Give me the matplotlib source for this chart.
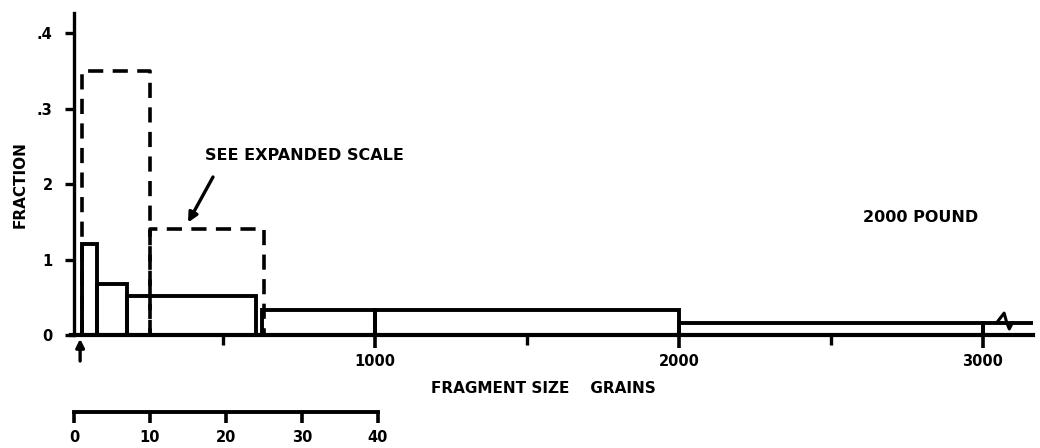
import matplotlib
matplotlib.use("Agg")
import matplotlib.pyplot as plt
import matplotlib.transforms as mtransforms
from matplotlib.ticker import FixedLocator

# Fragment mass bins (grains) and the fraction of fragments in each bin
bin_left = [35, 85, 185, 630, 1000, 2000, 3000]
bin_right = [85, 185, 610, 1000, 2000, 3000, 3165]
fraction = [0.120, 0.068, 0.051, 0.033, 0.033, 0.016, 0.016]

# Small fragments replotted on the expanded 0-40 grain scale
exp_left = [1, 10]
exp_right = [10, 25]
exp_fraction = [0.35, 0.14]

# Break mark on the open-ended last bin
break_x = [3045, 3070, 3079, 3087, 3097]
break_y = [0.016, 0.029, 0.016, 0.008, 0.016]

y_ticks = [0, 0.1, 0.2, 0.3, 0.4]
y_tick_labels = ["0", "1", "2", ".3", ".4"]
x_ticks = [1000, 2000, 3000]
x_minor_ticks = [500, 1500, 2500]
exp_ticks = [0, 10, 20, 30, 40]

plt.rcParams["font.family"] = ["DejaVu Sans"]
plt.rcParams["font.weight"] = "bold"

W, H = 1040, 448
fig = plt.figure(figsize=(W / 100, H / 100), dpi=100)
fig.patch.set_facecolor("white")


def fx(px):
    return px / W


def fy(py):
    return 1 - py / H


LW = 2.8
INK = "black"

# ---- main axes -------------------------------------------------------
ax = fig.add_axes([fx(71), fy(335), fx(1033) - fx(71), fy(13) - fy(335)])
ax.set_xlim(0, 3165)
ax.set_ylim(0, 0.4265)
ax.set_facecolor("none")
for side in ("top", "right"):
    ax.spines[side].set_visible(False)
ax.spines["left"].set_position(("data", 10))
ax.spines["left"].set_linewidth(2.4)
ax.spines["bottom"].set_linewidth(3.0)
ax.spines["left"].set_capstyle("projecting")

ax.set_yticks(y_ticks)
ax.set_yticklabels(y_tick_labels)
ax.tick_params(axis="y", direction="out", length=6.5, width=2.4, pad=9,
               labelsize=10.5, colors=INK)

ax.xaxis.set_major_locator(FixedLocator(x_ticks))
ax.xaxis.set_minor_locator(FixedLocator(x_minor_ticks))
ax.set_xticklabels([str(t) for t in x_ticks])
ax.tick_params(axis="x", which="major", direction="out", length=9, width=2.6,
               pad=5, labelsize=10.5, colors=INK)
ax.tick_params(axis="x", which="minor", direction="out", length=7, width=2.4)
for lab in ax.get_xticklabels() + ax.get_yticklabels():
    lab.set_fontweight("bold")

# Solid histogram bars (outlines only); the last bin runs off the scale
n = len(fraction)
for i, (l, r, h) in enumerate(zip(bin_left, bin_right, fraction)):
    if i == n - 1:
        xs, ys = [l, l, r], [0, h, h]
    else:
        xs, ys = [l, l, r, r], [0, h, h, 0]
    ax.plot(xs, ys, color=INK, lw=LW, solid_joinstyle="miter",
            solid_capstyle="butt", clip_on=False)
ax.plot(break_x, break_y, color=INK, lw=2.2, clip_on=False)

# ---- expanded 0-40 grain scale beneath the chart ----------------------
ax_exp = fig.add_axes([fx(74), fy(412), fx(378) - fx(74), 0.0001])
ax_exp.set_xlim(0, 40)
ax_exp.set_ylim(0, 1)
ax_exp.patch.set_visible(False)
for side in ("top", "right", "left"):
    ax_exp.spines[side].set_visible(False)
ax_exp.spines["bottom"].set_linewidth(2.8)
ax_exp.set_yticks([])
ax_exp.set_xticks(exp_ticks)
ax_exp.set_xticklabels([str(t) for t in exp_ticks])
ax_exp.tick_params(axis="x", direction="out", length=8, width=2.6, pad=5,
                   labelsize=10.5, colors=INK)
for lab in ax_exp.get_xticklabels():
    lab.set_fontweight("bold")

# Dashed bins are positioned on the expanded x scale, main fraction scale
exp_tr = mtransforms.blended_transform_factory(ax_exp.transData, ax.transData)
for l, r, h in zip(exp_left, exp_right, exp_fraction):
    ax.plot([l, l, r, r], [0, h, h, 0], color=INK, lw=2.6,
            linestyle=(0, (4.2, 2.6)), transform=exp_tr, clip_on=False)

# ---- labels ------------------------------------------------------------
fig.text(fx(20), fy(185), "FRACTION", rotation=90, ha="center", va="center",
         fontsize=11, fontweight="bold", color=INK)
fig.text(fx(543), fy(388), "FRAGMENT SIZE    GRAINS", ha="center",
         va="center", fontsize=11, fontweight="bold", color=INK)
fig.text(fx(205), fy(156), "SEE EXPANDED SCALE", ha="left", va="center",
         fontsize=11.5, fontweight="bold", color=INK)
fig.text(fx(863), fy(218), "2000 POUND", ha="left", va="center",
         fontsize=11.5, fontweight="bold", color=INK)

# Pointer from the note down to the expanded-scale bins
ax.annotate("", xy=(15, 0.149), xycoords=exp_tr,
            xytext=(213, H - 177), textcoords="figure pixels",
            arrowprops=dict(arrowstyle="-|>", color=INK, lw=2.4,
                            mutation_scale=14, shrinkA=0, shrinkB=0))

# Upward pointer under the first bin edge
ax.annotate("", xy=(bin_left[0] - 5, -0.005), xycoords="data",
            xytext=(0, -16), textcoords="offset points",
            arrowprops=dict(arrowstyle="-|>", color=INK, lw=2.4,
                            mutation_scale=12, shrinkA=0, shrinkB=0),
            annotation_clip=False)

fig.savefig("out.png", dpi=100, facecolor="white")
